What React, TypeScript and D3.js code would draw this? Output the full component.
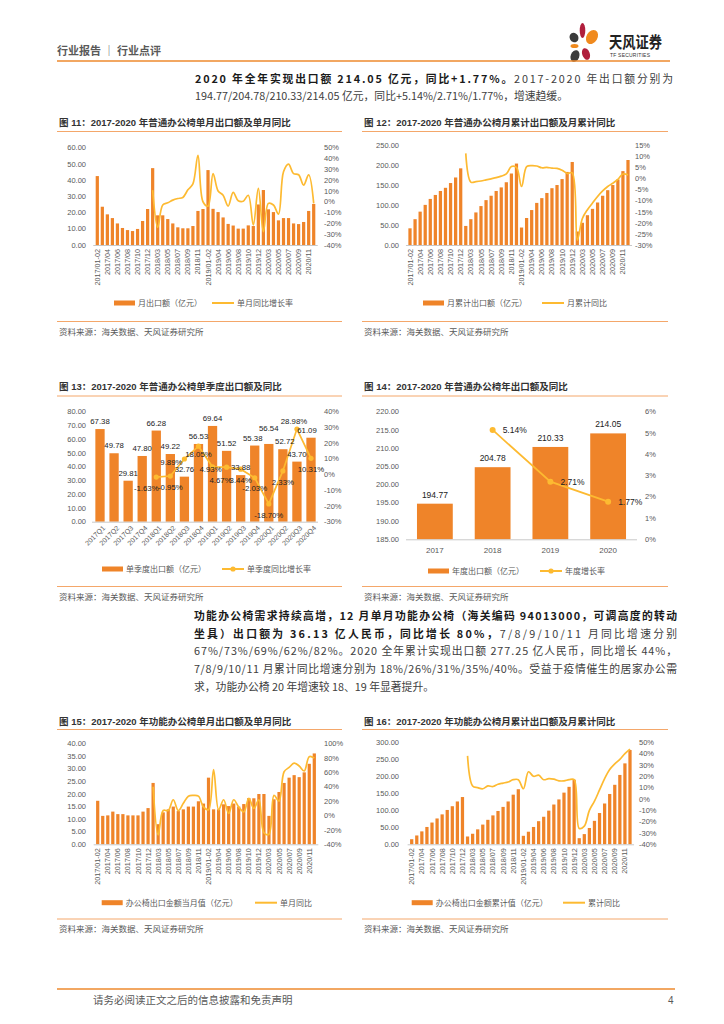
import React from "react";
import * as d3 from "d3";

const FONT = "'Liberation Sans', 'Noto Sans CJK SC', sans-serif";
const CJK = "'Noto Sans CJK SC', 'Liberation Sans', sans-serif";
const BAR = "#EF8429";
const LINE = "#FDBA31";
const RULE = "#F4A76A";
const TXT = "#595959";

// ---------- categories ----------
const YEARS = ["2017", "2018", "2019", "2020"];
const MONTH_TAGS = ["01-02", "03", "04", "05", "06", "07", "08", "09", "10", "11", "12"];
const MONTHS = YEARS.flatMap((y) => MONTH_TAGS.map((m) => `${y}/${m}`));
const QUARTERS = YEARS.flatMap((y) => ["Q1", "Q2", "Q3", "Q4"].map((q) => `${y}${q}`));

// ---------- 图11 普通办公椅单月 ----------
const CH11_BARS = [
  42.5, 23.6, 18.9, 16.6, 13.3, 10.5, 9.2, 8.6, 9.9, 14.8, 22.2,
  47.4, 18.3, 18.3, 16.0, 13.3, 10.9, 10.3, 10.3, 11.7, 21.0, 22.2,
  46.2, 22.3, 20.3, 17.0, 13.0, 12.0, 10.1, 10.1, 12.1, 11.7, 25.0,
  33.9, 22.0, 20.3, 15.2, 16.6, 16.6, 13.3, 12.9, 14.2, 21.0, 25.3,
];
const CH11_YOY = [
  null, null, null, null, null, null, null, null, null, null, null,
  10.8, -23.7, -3, -1, 1.5, 3, 4, 11, 16.6, 43, 0,
  -4, 26, 10, 6, -4, 8.7, 1, 0.5, 6, -21.5, 12.3,
  -27.7, -1.5, -3, -11.4, 27.7, 34.8, 26, 25, 15.4, 25, -1.5,
];

// ---------- 图12 普通办公椅月累计 ----------
const CH12_BARS = [
  42, 65, 84, 101, 116, 126, 136, 144, 156, 170, 193,
  48, 65, 82, 98, 113, 124, 136, 145, 158, 180, 205,
  44, 68, 88, 106, 118, 131, 143, 151, 166, 184, 209,
  34, 56, 75, 91, 107, 124, 138, 151, 165, 186, 214,
];
const CH12_YOY = [
  null, null, null, null, null, null, null, null, null, null, null,
  11.5, -1.5, -1.3, -1, -0.5, 0, 0.5, 1.2, 2.2, 5.6, 5.14,
  -3.5, 5.5, 6, 5.8, 5, 5.2, 4.8, 4.7, 3.9, 2.4, 2.71,
  -27.8, -18, -14, -11, -8, -5.5, -3.5, -2, -0.3, 2.2, 1.77,
];

// ---------- 图13 单季度 ----------
const Q_VALUES = [67.38, 49.78, 29.81, 47.8, 66.28, 49.22, 32.76, 56.53, 69.64, 51.52, 33.88, 55.38, 56.54, 52.72, 43.7, 61.09];
const Q_YOY = [null, null, null, null, -1.63, -0.95, 9.89, 18.05, 4.93, 4.67, 3.44, -2.03, -18.7, 2.33, 28.98, 10.31];

// ---------- 图14 年度 ----------
const YEAR_VALUES = [194.77, 204.78, 210.33, 214.05];
const YEAR_YOY = [null, 5.14, 2.71, 1.77];

// ---------- 图15 功能办公椅单月 ----------
const CH15_BARS = [
  17.3, 11.3, 11.5, 13, 12, 12, 11.5, 11.5, 11.5, 13, 14.4,
  24.4, 8, 12.7, 13.9, 15, 13.2, 13.9, 15, 15, 17.1, 16.2,
  26.5, 13.9, 13.9, 15.9, 15.2, 16.2, 15, 16, 18.4, 18.3, 20,
  20, 11.3, 17.9, 20.8, 24.4, 26.5, 27.5, 26.7, 28.6, 32, 36.13,
];
const CH15_YOY = [
  null, null, null, null, null, null, null, null, null, null, null,
  40, -27, 7, 7, 22, 7, 17, 27, 28, 27, 12,
  8, 64, 8, 22, 3, 22, 12, 5, 24, 10, 22,
  -24, -26, 28, 20, 61, 67, 73, 69, 62, 82, 80,
];

// ---------- 图16 功能办公椅月累计 ----------
const CH16_BARS = [
  15, 26, 38, 51, 64, 76, 88, 101, 112, 126, 139,
  23, 31, 44, 58, 72, 85, 98, 110, 126, 146, 162,
  25, 37, 51, 68, 81, 99, 117, 132, 152, 169, 190,
  18, 30, 48, 69, 92, 120, 148, 175, 204, 238, 277.25,
];
const CH16_YOY = [
  null, null, null, null, null, null, null, null, null, null, null,
  38, 11.5, 10, 9, 11.5, 11, 13, 14, 15, 17, 17,
  9, 24, 20, 21, 17, 18, 17.5, 16, 16, 17, 17,
  -26, -24, -10, -2, 8, 18, 26, 31, 35, 40, 44,
];

// label nudges for 图13 labels (style only)
const Q_PCT_NUDGE: Record<string, [number, number]> = {
  "2018Q1": [-10, 11], "2018Q3": [-13, 3], "2018Q4": [0, 8], "2019Q1": [-2, 2],
  "2019Q2": [-6, 13], "2020Q3": [-3, -8],
};
const Q_VAL_NUDGE: Record<string, [number, number]> = {
  "2019Q4": [-2, 0], "2020Q1": [0, -8], "2020Q2": [2, 0], "2020Q4": [-4, 0],
};

function Panel({ x0, x1, titleY, ruleY, title, srcLineY, srcY }: any) {
  return (
    <g>
      <text x={x0 + 2} y={titleY} fontSize={9.5} fontWeight="bold" fill="#333" fontFamily={FONT}>{title}</text>
      <line x1={x0} x2={x1} y1={ruleY} y2={ruleY} stroke={RULE} strokeWidth={1} />
      <line x1={x0} x2={x1} y1={srcLineY} y2={srcLineY} stroke={RULE} strokeWidth={1} />
      <text x={x0 + 2} y={srcY} fontSize={8.5} fill={TXT} fontFamily={CJK}>资料来源：海关数据、天风证券研究所</text>
    </g>
  );
}

function Legend({ y, barX, barLabel, lineX, lineLabel, marker }: any) {
  return (
    <g fontFamily={CJK} fontSize={8} fill={TXT}>
      <rect x={barX} y={y - 2.5} width={21} height={5} fill={BAR} />
      <text x={barX + 24} y={y} dy="0.35em">{barLabel}</text>
      <line x1={lineX} x2={lineX + 22} y1={y} y2={y} stroke={LINE} strokeWidth={2} />
      {marker && <circle cx={lineX + 11} cy={y} r={2.6} fill={LINE} />}
      <text x={lineX + 25} y={y} dy="0.35em">{lineLabel}</text>
    </g>
  );
}

function MonthlyChart(p: any) {
  const x = d3.scalePoint<string>().domain(MONTHS).range([p.c0, p.c1]);
  const step = x.step();
  const bw = step * 0.64;
  const yL = d3.scaleLinear().domain(p.lDomain).range([p.bottom, p.top]);
  const yR = d3.scaleLinear().domain(p.rDomain).range([p.bottom, p.top]);
  const lTicks = d3.range(p.lDomain[0], p.lDomain[1] + p.lStep / 2, p.lStep);
  const rTicks = d3.range(p.rDomain[0], p.rDomain[1] + p.rStep / 2, p.rStep);
  const line = d3
    .line<number | null>()
    .defined((d) => d != null)
    .x((_, i) => x(MONTHS[i]) as number)
    .y((d) => yR(d as number))
    .curve(d3.curveCatmullRom.alpha(0.5));
  return (
    <g fontFamily={FONT}>
      {lTicks.map((t) => (
        <text key={"l" + t} x={p.lx} y={yL(t)} dy="0.35em" textAnchor="end" fontSize={7.5} fill={TXT}>{t.toFixed(2)}</text>
      ))}
      {rTicks.map((t) => (
        <text key={"r" + t} x={p.rx} y={yR(t)} dy="0.35em" fontSize={7.5} fill={TXT}>{`${Math.round(t)}%`}</text>
      ))}
      {p.bars.map((v: number, i: number) => (
        <rect key={i} x={(x(MONTHS[i]) as number) - bw / 2} y={yL(v)} width={bw} height={yL(0) - yL(v)} fill={BAR} />
      ))}
      <line x1={p.c0 - step * 0.8} x2={p.c1 + step * 0.8} y1={p.bottom + 0.5} y2={p.bottom + 0.5} stroke="#C8C8C8" strokeWidth={1} />
      <path d={line(p.yoy) || ""} fill="none" stroke={LINE} strokeWidth={1.7} />
      {MONTHS.map((m, i) =>
        i % 2 === 0 ? (
          <text key={m} transform={`translate(${x(m)},${p.bottom + 4}) rotate(-90)`} textAnchor="end" dy="0.35em" fontSize={7.2} fill={TXT}>{m}</text>
        ) : null
      )}
      <Legend {...p.legend} />
    </g>
  );
}

function QuarterChart() {
  const top = 411.7, bottom = 521.7;
  const x = d3.scalePoint<string>().domain(QUARTERS).range([100, 311]);
  const bw = 9.3;
  const yL = d3.scaleLinear().domain([0, 80]).range([bottom, top]);
  const yR = d3.scaleLinear().domain([-30, 40]).range([bottom, top]);
  const pts = Q_YOY.map((v, i) => ({ v, q: QUARTERS[i] })).filter((d) => d.v != null) as { v: number; q: string }[];
  const line = d3.line<{ v: number; q: string }>().x((d) => x(d.q) as number).y((d) => yR(d.v));
  return (
    <g fontFamily={FONT}>
      {d3.range(0, 81, 10).map((t) => (
        <text key={"l" + t} x={86} y={yL(t)} dy="0.35em" textAnchor="end" fontSize={7.5} fill={TXT}>{t.toFixed(2)}</text>
      ))}
      {d3.range(-30, 41, 10).map((t) => (
        <text key={"r" + t} x={324} y={yR(t)} dy="0.35em" fontSize={7.5} fill={TXT}>{`${t}%`}</text>
      ))}
      {Q_VALUES.map((v, i) => (
        <rect key={i} x={(x(QUARTERS[i]) as number) - bw / 2} y={yL(v)} width={bw} height={yL(0) - yL(v)} fill={BAR} />
      ))}
      <line x1={92} x2={318} y1={bottom + 0.5} y2={bottom + 0.5} stroke="#C8C8C8" />
      {QUARTERS.map((q) => (
        <text key={q} transform={`translate(${(x(q) as number) + 4},${bottom + 5}) rotate(-45)`} textAnchor="end" dy="0.35em" fontSize={7} fill={TXT}>{q}</text>
      ))}
      <path d={line(pts) || ""} fill="none" stroke={LINE} strokeWidth={1.7} />
      {pts.map((d) => (
        <circle key={d.q} cx={x(d.q)} cy={yR(d.v)} r={2.6} fill={LINE} />
      ))}
      {Q_VALUES.map((v, i) => {
        const n = Q_VAL_NUDGE[QUARTERS[i]] || [0, 0];
        return (
          <text key={"v" + i} x={(x(QUARTERS[i]) as number) + n[0]} y={yL(v) - 5 + n[1]} textAnchor="middle" fontSize={7.8} fill="#222">{v.toFixed(2)}</text>
        );
      })}
      {pts.map((d) => {
        const n = Q_PCT_NUDGE[d.q] || [0, 11];
        return (
          <text key={"p" + d.q} x={(x(d.q) as number) + n[0]} y={yR(d.v) + n[1]} dy="0.35em" textAnchor="middle" fontSize={7.8} fill="#222">{`${d.v.toFixed(2)}%`}</text>
        );
      })}
      <Legend y={569} barX={102} barLabel="单季度出口额（亿元）" lineX={222} lineLabel="单季度同比增长率" marker />
    </g>
  );
}

function YearChart() {
  const top = 411.7, bottom = 539.3;
  const x = d3.scaleBand<string>().domain(YEARS).range([406, 637]).paddingInner(0.38).paddingOuter(0.19);
  const yL = d3.scaleLinear().domain([185, 220]).range([bottom, top]);
  const yR = d3.scaleLinear().domain([0, 6]).range([bottom, top]);
  const pts = YEAR_YOY.map((v, i) => ({ v, y: YEARS[i] })).filter((d) => d.v != null) as { v: number; y: string }[];
  const cx = (k: string) => (x(k) as number) + x.bandwidth() / 2;
  const line = d3.line<{ v: number; y: string }>().x((d) => cx(d.y)).y((d) => yR(d.v));
  return (
    <g fontFamily={FONT}>
      {d3.range(185, 221, 5).map((t) => (
        <text key={"l" + t} x={399} y={yL(t)} dy="0.35em" textAnchor="end" fontSize={7.5} fill={TXT}>{t.toFixed(2)}</text>
      ))}
      {d3.range(0, 7, 1).map((t) => (
        <text key={"r" + t} x={645} y={yR(t)} dy="0.35em" fontSize={7.5} fill={TXT}>{`${t}%`}</text>
      ))}
      {YEAR_VALUES.map((v, i) => (
        <rect key={i} x={x(YEARS[i])} y={yL(v)} width={x.bandwidth()} height={yL(185) - yL(v)} fill={BAR} />
      ))}
      <line x1={406} x2={637} y1={bottom + 0.5} y2={bottom + 0.5} stroke="#C8C8C8" />
      {YEARS.map((k) => (
        <text key={k} x={cx(k)} y={bottom + 14} textAnchor="middle" fontSize={8} fill={TXT}>{k}</text>
      ))}
      {YEAR_VALUES.map((v, i) => (
        <text key={"v" + i} x={cx(YEARS[i])} y={yL(v) - 6} textAnchor="middle" fontSize={8.5} fill="#222">{v.toFixed(2)}</text>
      ))}
      <path d={line(pts) || ""} fill="none" stroke={LINE} strokeWidth={1.7} />
      {pts.map((d) => (
        <g key={d.y}>
          <circle cx={cx(d.y)} cy={yR(d.v)} r={3} fill={LINE} />
          <text x={cx(d.y) + 10} y={yR(d.v)} dy="0.35em" fontSize={8.5} fill="#222">{`${d.v.toFixed(2)}%`}</text>
        </g>
      ))}
      <Legend y={571} barX={428} barLabel="年度出口额（亿元）" lineX={540} lineLabel="年度增长率" marker />
    </g>
  );
}

function Logo() {
  return (
    <g>
      <ellipse cx={574} cy={37.5} rx={4.3} ry={5} transform="rotate(-30 574 37.5)" fill="#3B3B3B" />
      <ellipse cx={582.5} cy={30.5} rx={2.8} ry={7.5} fill="#B01E3C" />
      <ellipse cx={592} cy={37} rx={5.5} ry={7.5} transform="rotate(30 592 37)" fill="#F08A1E" />
      <ellipse cx={574.5} cy={46} rx={4} ry={2} fill="#F08A1E" />
      <ellipse cx={575} cy={56} rx={4.3} ry={6} transform="rotate(20 575 56)" fill="#3B3B3B" />
      <ellipse cx={586} cy={54} rx={3.8} ry={6} transform="rotate(-20 586 54)" fill="#B01E3C" />
      <text x={609} y={47.5} fontSize={16} fontWeight="bold" fill="#222" fontFamily={CJK} textLength={53} lengthAdjust="spacingAndGlyphs">天风证券</text>
      <text x={610} y={57} fontSize={5} fill="#333" fontFamily={FONT} textLength={40}>TF SECURITIES</text>
    </g>
  );
}

export default function App() {
  const pFont = { fontFamily: CJK, fontSize: 10.8 } as any;
  return (
    <div style={{ position: "absolute", left: 0, top: 0 }}>
      <svg width={724} height={1024} viewBox="0 0 724 1024" style={{ display: "block", background: "#fff" }}>
        {/* header */}
        <text x={57} y={54.5} fontSize={11} fontWeight="bold" fill={TXT} fontFamily={CJK}>行业报告 │ 行业点评</text>
        <Logo />
        <line x1={57} x2={670} y1={61} y2={61} stroke="#EE8A2E" strokeWidth={1.6} />

        {/* paragraph 1 */}
        <text x={195} y={82.5} {...pFont} textLength={478} lengthAdjust="spacing" fill="#404040">
          <tspan fontWeight="bold" fill="#1a1a1a">2020 年全年实现出口额 214.05 亿元，同比+1.77%。</tspan>
          <tspan>2017-2020 年出口额分别为</tspan>
        </text>
        <text x={195} y={100} {...pFont} fill="#404040">194.77/204.78/210.33/214.05 亿元，同比+5.14%/2.71%/1.77%，增速趋缓。</text>

        {/* row 1 */}
        <Panel x0={57} x1={342} titleY={125.5} ruleY={131.5} srcLineY={321.5} srcY={335} title="图 11：2017-2020 年普通办公椅单月出口额及单月同比" />
        <Panel x0={362} x1={668} titleY={125.5} ruleY={131.5} srcLineY={321.5} srcY={335} title="图 12：2017-2020 年普通办公椅月累计出口额及月累计同比" />
        <MonthlyChart c0={97.3} c1={313.7} top={147.7} bottom={245} lDomain={[0, 60]} lStep={10} rDomain={[-40, 50]} rStep={10}
          bars={CH11_BARS} yoy={CH11_YOY} lx={86} rx={324}
          legend={{ y: 303, barX: 114, barLabel: "月出口额（亿元）", lineX: 212, lineLabel: "单月同比增长率" }} />
        <MonthlyChart c0={410} c1={628} top={145.7} bottom={245} lDomain={[0, 250]} lStep={50} rDomain={[-30, 15]} rStep={5}
          bars={CH12_BARS} yoy={CH12_YOY} lx={399} rx={635}
          legend={{ y: 303, barX: 423, barLabel: "月累计出口额（亿元）", lineX: 542, lineLabel: "月累计同比" }} />

        {/* row 2 */}
        <Panel x0={57} x1={342} titleY={390} ruleY={396} srcLineY={586.5} srcY={600} title="图 13：2017-2020 年普通办公椅单季度出口额及同比" />
        <Panel x0={362} x1={668} titleY={390} ruleY={396} srcLineY={586.5} srcY={600} title="图 14：2017-2020 年普通办公椅年出口额及同比" />
        <QuarterChart />
        <YearChart />

        {/* paragraph 2 */}
        <text x={194} y={619.5} {...pFont} textLength={483} lengthAdjust="spacing" fontWeight="bold" fill="#1a1a1a">功能办公椅需求持续高增，12 月单月功能办公椅（海关编码 94013000，可调高度的转动</text>
        <text x={194} y={637.5} {...pFont} textLength={483} lengthAdjust="spacing" fill="#404040">
          <tspan fontWeight="bold" fill="#1a1a1a">坐具）出口额为 36.13 亿人民币，同比增长 80%，</tspan>
          <tspan>7/8/9/10/11 月同比增速分别</tspan>
        </text>
        <text x={194} y={655} {...pFont} textLength={483} lengthAdjust="spacing" fill="#404040">67%/73%/69%/62%/82%。2020 全年累计实现出口额 277.25 亿人民币，同比增长 44%，</text>
        <text x={194} y={673} {...pFont} textLength={483} lengthAdjust="spacing" fill="#404040">7/8/9/10/11 月累计同比增速分别为 18%/26%/31%/35%/40%。受益于疫情催生的居家办公需</text>
        <text x={194} y={691} {...pFont} fill="#404040">求，功能办公椅 20 年增速较 18、19 年显著提升。</text>

        {/* row 3 */}
        <Panel x0={57} x1={342} titleY={725} ruleY={729.5} srcLineY={919} srcY={932} title="图 15：2017-2020 年功能办公椅单月出口额及单月同比" />
        <Panel x0={362} x1={668} titleY={725} ruleY={729.5} srcLineY={919} srcY={932} title="图 16：2017-2020 年功能办公椅月累计出口额及月累计同比" />
        <MonthlyChart c0={97.7} c1={314.3} top={743.7} bottom={844.3} lDomain={[0, 40]} lStep={5} rDomain={[-40, 100]} rStep={20}
          bars={CH15_BARS} yoy={CH15_YOY} lx={86} rx={324}
          legend={{ y: 902.7, barX: 101.7, barLabel: "办公椅出口金额当月值（亿元）", lineX: 255, lineLabel: "单月同比" }} />
        <MonthlyChart c0={411.7} c1={630} top={742.3} bottom={844.3} lDomain={[0, 300]} lStep={50} rDomain={[-40, 50]} rStep={10}
          bars={CH16_BARS} yoy={CH16_YOY} lx={399} rx={639}
          legend={{ y: 902.7, barX: 411.7, barLabel: "办公椅出口金额累计值（亿元）", lineX: 563, lineLabel: "累计同比" }} />

        {/* footer */}
        <line x1={57} x2={675} y1={989} y2={989} stroke="#EE8A2E" strokeWidth={1.6} />
        <text x={93} y={1004} fontSize={10.5} fill={TXT} fontFamily={CJK}>请务必阅读正文之后的信息披露和免责声明</text>
        <text x={668} y={1004} fontSize={10} fill={TXT} fontFamily={FONT}>4</text>
      </svg>
    </div>
  );
}
